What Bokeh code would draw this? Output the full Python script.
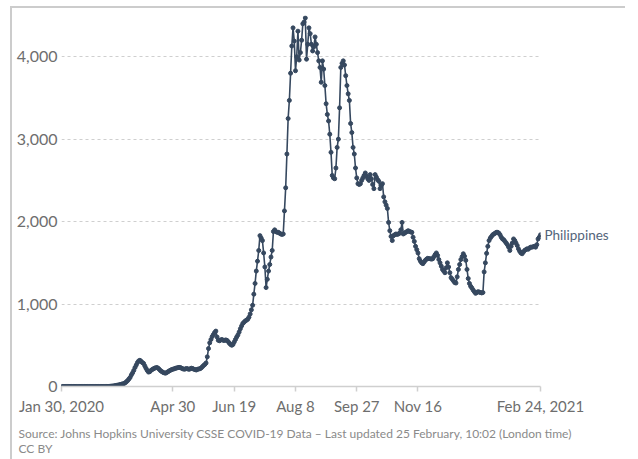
import numpy as np
import pandas as pd
from bokeh.plotting import figure
from bokeh.models import (Range1d, FixedTicker, NumeralTickFormatter, Title, ColumnDataSource,
                          LinearAxis, InlineStyleSheet)
from bokeh.embed import file_html
from bokeh.resources import INLINE

# ---------------- data ----------------
start_date = "2020-01-30"
country = "Philippines"
# 7-day average of daily new confirmed cases, one value per day from Jan 30, 2020 to Feb 24, 2021
cases = [
    # days 0-34
    0, 0, 0, 0.1, 0.3, 0.3, 0.3, 0.2, 0.1, 0, 0, 0, 0, 0, 0, 0, 0, 0, 0, 0,
    0, 0, 0, 0, 0, 0, 0, 0, 0, 0, 0, 0, 0, 0, 0,
    # 35-41
    0, 0.3, 0.6, 1, 1.5, 3, 5,
    # 42-50
    6, 8, 11, 14, 17, 20, 24, 28, 32,
    # 51-56
    36, 45, 58, 72, 90, 110,
    # 57-63
    140, 165, 195, 230, 260, 290, 310,
    # 64-70
    318, 305, 290, 280, 250, 220, 195,
    # 71-77
    175, 180, 195, 205, 215, 222, 228,
    # 78-84
    230, 220, 205, 190, 180, 170, 165,
    # 85-91
    162, 170, 180, 190, 198, 205, 210,
    # 92-98
    215, 220, 225, 228, 232, 230, 222,
    # 99-105
    215, 210, 212, 218, 215, 208, 214,
    # 106-112
    222, 218, 210, 205, 200, 208, 213,
    # 113-119
    215, 225, 240, 255, 268, 285, 360,
    # 120-126
    460, 530, 570, 605, 630, 655, 672,
    # 127-133
    600, 560, 555, 565, 570, 560, 558,
    # 134-140
    565, 560, 545, 525, 510, 500, 510,
    # 141-147
    540, 570, 600, 625, 660, 700, 735,
    # 148-154
    765, 780, 795, 805, 815, 840, 880,
    # 155-161
    930, 985, 1120, 1250, 1400, 1520, 1650,
    # 162-168
    1830, 1800, 1770, 1620, 1450, 1200, 1300,
    # 169-175
    1400, 1480, 1570, 1650, 1880, 1900, 1880,
    # 176-181
    1870, 1870, 1860, 1850, 1845, 1850,
    # 182-190
    2130, 2410, 2820, 3250, 3470, 3800, 4130, 4350, 4190,
    # 191-199
    3830, 4000, 4310, 3960, 4050, 4200, 4400, 4420, 4470,
    # 200-207
    3970, 4150, 4350, 4280, 4150, 4070, 4120, 4240,
    # 208-215
    4150, 4050, 3950, 3870, 3690, 3950, 3850, 3650,
    # 216-223
    3430, 3300, 3220, 3060, 2840, 2560, 2530, 2520,
    # 224-231
    2650, 2900, 3000, 3380, 3870, 3920, 3950, 3900,
    # 232-239
    3770, 3650, 3550, 3470, 3190, 3080, 2900, 2820,
    # 240-247
    2650, 2530, 2460, 2450, 2460, 2500, 2530, 2560,
    # 248-255
    2590, 2550, 2520, 2500, 2570, 2520, 2450, 2400,
    # 256-263
    2570, 2540, 2510, 2490, 2400, 2440, 2460, 2300,
    # 264-271
    2240, 2200, 2160, 1990, 1890, 1820, 1770, 1830,
    # 272-279
    1840, 1850, 1845, 1850, 1860, 1900, 1990, 1850,
    # 280-287
    1860, 1870, 1880, 1890, 1880, 1875, 1870, 1810,
    # 288-295
    1760, 1700, 1660, 1620, 1550, 1520, 1500, 1490,
    # 296-303
    1510, 1530, 1545, 1555, 1550, 1550, 1545, 1550,
    # 304-311
    1575, 1600, 1620, 1590, 1540, 1500, 1460, 1420,
    # 312-319
    1400, 1380, 1440, 1500, 1450, 1380, 1320, 1300,
    # 320-327
    1280, 1260, 1255, 1330, 1420, 1480, 1540, 1575,
    # 328-335
    1610, 1580, 1530, 1420, 1310, 1250, 1215, 1195,
    # 336-343
    1170, 1150, 1130, 1140, 1150, 1145, 1140, 1135,
    # 344-351
    1140, 1390, 1500, 1615, 1700, 1770, 1800, 1820,
    # 352-359
    1840, 1850, 1860, 1870, 1870, 1860, 1840, 1810,
    # 360-367
    1790, 1780, 1760, 1740, 1720, 1690, 1650, 1700,
    # 368-375
    1740, 1790, 1770, 1740, 1710, 1670, 1640, 1620,
    # 376-383
    1610, 1630, 1650, 1660, 1670, 1665, 1680, 1690,
    # 384-391
    1690, 1695, 1700, 1690, 1720, 1790, 1810, 1840,
]
tick_dates = ["2020-01-30", "2020-04-30", "2020-06-19", "2020-08-08",
              "2020-09-27", "2020-11-16", "2021-02-24"]
tick_labels = ["Jan 30, 2020", "Apr 30", "Jun 19", "Aug 8", "Sep 27", "Nov 16", "Feb 24, 2021"]
y_ticks = [0, 1000, 2000, 3000, 4000]
source_text = "Source: Johns Hopkins University CSSE COVID-19 Data \u2013 Last updated 25 February, 10:02 (London time)"
license_text = "CC BY"

# ---------------- derived ----------------
t0 = pd.Timestamp(start_date)
day = list(range(len(cases)))
dates = [t0 + pd.Timedelta(days=d) for d in day]
tick_pos = [(pd.Timestamp(d) - t0).days for d in tick_dates]
src = ColumnDataSource(dict(day=day, cases=cases, date=dates))

LINE = "#36485f"
GRID = "#cfcfcf"
TXT = "#6e6e6e"
FONT = "Lato"

frame_css = InlineStyleSheet(css=(":host { margin-left: 10px; margin-top: 6px; "
                                  "border-top: 2px solid #cccccc; border-left: 2px solid #cccccc; }"))

p = figure(frame_width=479, frame_height=371,
           min_border_left=49, min_border_right=85, min_border_top=7, min_border_bottom=40,
           x_range=Range1d(tick_pos[0], tick_pos[-1]), y_range=Range1d(0, 4500),
           output_backend="svg", toolbar_location=None, background_fill_color="white",
           border_fill_color="white", stylesheets=[frame_css])
p.outline_line_color = None

p.line("day", "cases", source=src, line_color=LINE, line_width=1.6)
p.scatter("day", "cases", source=src, size=4, fill_color=LINE, line_color=LINE)

# x axis
xa = p.xaxis[0]
xa.ticker = FixedTicker(ticks=tick_pos)
xa.major_label_overrides = {pos: lab for pos, lab in zip(tick_pos, tick_labels)}
xa.axis_line_color = GRID
xa.axis_line_width = 1.5
xa.major_tick_line_color = GRID
xa.major_tick_line_width = 1.5
xa.major_tick_out = 5
xa.major_tick_in = 0
xa.minor_tick_line_color = None
xa.major_label_text_font = FONT
xa.major_label_text_font_size = "15px"
xa.major_label_text_color = TXT
xa.major_label_standoff = 5

# y axis
ya = p.yaxis[0]
ya.ticker = FixedTicker(ticks=y_ticks)
ya.formatter = NumeralTickFormatter(format="0,0")
ya.axis_line_color = None
ya.major_tick_line_color = None
ya.minor_tick_line_color = None
ya.major_tick_in = 0
ya.major_tick_out = 0
ya.major_label_text_font = FONT
ya.major_label_text_font_size = "16px"
ya.major_label_text_color = TXT
ya.major_label_standoff = 4

# series name at the end of the line, via a right-hand axis with a single tick
last_val = cases[-1]
ra = LinearAxis(ticker=FixedTicker(ticks=[last_val]),
                major_label_overrides={last_val: country})
ra.axis_line_color = None
ra.major_tick_line_color = None
ra.minor_tick_line_color = None
ra.major_tick_in = 0
ra.major_tick_out = 0
ra.major_label_text_font = FONT
ra.major_label_text_font_size = "13.5px"
ra.major_label_text_color = "#53647a"
ra.major_label_standoff = 4
p.add_layout(ra, "right")

p.xgrid.visible = False
p.ygrid.ticker = FixedTicker(ticks=y_ticks[1:])
p.ygrid.grid_line_color = GRID
p.ygrid.grid_line_dash = "3 3"
p.ygrid.grid_line_width = 1

t1 = Title(text=source_text + "\n" + license_text, align="left", text_font=FONT,
           text_font_size="12px", text_font_style="normal", text_color="#8a8a8a",
           offset=-43, standoff=13)
p.add_layout(t1, "below")

assert len(cases) == 392
open("out.html", "w").write(file_html(p, INLINE))
